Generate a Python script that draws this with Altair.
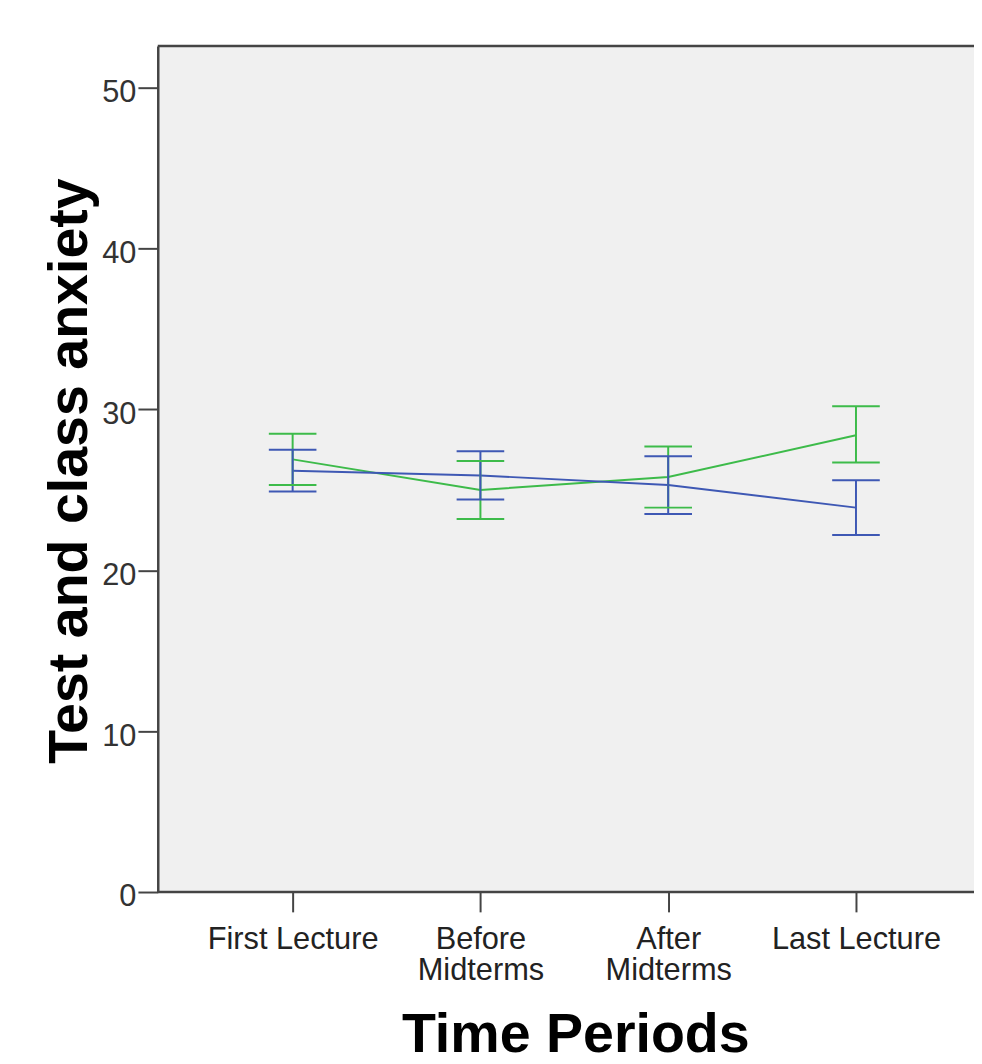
import altair as alt
import pandas as pd

# ---- data ----
periods = ["First Lecture", "Before|Midterms", "After|Midterms", "Last Lecture"]
groups = ["Group A", "Group B"]  # green, blue (no legend in reference)

green_mean = [26.9, 25.0, 25.8, 28.4]
green_lo = [25.3, 23.2, 23.9, 26.7]
green_hi = [28.5, 26.8, 27.7, 30.2]

blue_mean = [26.2, 25.9, 25.3, 23.9]
blue_lo = [24.9, 24.4, 23.5, 22.2]
blue_hi = [27.5, 27.4, 27.1, 25.6]

y_ticks = [0, 10, 20, 30, 40, 50]
colors = ["#3dbb4a", "#3e58b4"]

rows = []
for g, m, lo, hi in [(groups[0], green_mean, green_lo, green_hi),
                     (groups[1], blue_mean, blue_lo, blue_hi)]:
    for p, mv, lv, hv in zip(periods, m, lo, hi):
        rows.append({"period": p, "group": g, "mean": mv, "lo": lv, "hi": hv})
df = pd.DataFrame(rows)

W = 823
H = 853

x = alt.X(
    "period:N",
    sort=periods,
    scale=alt.Scale(type="point", range=[136, 704], padding=0),
    axis=alt.Axis(
        title="Time Periods",
        titleFont="Liberation Sans",
        titleFontSize=56,
        titleFontWeight="bold",
        titleColor="#000000",
        titleX=421,
        titleY=161,
        titleAlign="center",
        titleBaseline="alphabetic",
        domain=False,
        ticks=True,
        tickSize=20,
        tickWidth=2,
        tickColor="#444444",
        labelFont="Liberation Sans",
        labelFontSize=31,
        labelColor="#222222",
        labelAngle=0,
        labelPadding=13,
        labelLineHeight=31,
        labelExpr="split(datum.label, '|')",
        grid=False,
    ),
)

yscale = alt.Scale(domain=[0, 52.6], nice=False, zero=True)
color = alt.Color("group:N", scale=alt.Scale(domain=groups, range=colors), legend=None)

base = alt.Chart(df)

lines = base.mark_line(strokeWidth=2).encode(
    x=x,
    y=alt.Y(
        "mean:Q",
        scale=yscale,
        axis=alt.Axis(
            title="Test and class anxiety",
            titleFont="Liberation Sans",
            titleFontSize=56,
            titleFontWeight="bold",
            titleColor="#000000",
            titleAngle=270,
            titleX=-72,
            titleY=428,
            titleAlign="center",
            titleBaseline="alphabetic",
            values=y_ticks,
            domain=True,
            domainColor="#444444",
            domainWidth=2.5,
            tickSize=20,
            tickWidth=2,
            tickColor="#444444",
            labelFont="Liberation Sans",
            labelFontSize=31,
            labelColor="#333333",
            labelPadding=2,
            labelOffset=5,
            grid=False,
        ),
    ),
    color=color,
)

bars = base.mark_rule(strokeWidth=2).encode(
    x=alt.X("period:N", sort=periods),
    y=alt.Y("lo:Q", scale=yscale),
    y2="hi:Q",
    color=color,
)

cap_lo = base.mark_tick(size=48, thickness=2, opacity=1).encode(
    x=alt.X("period:N", sort=periods),
    y=alt.Y("lo:Q", scale=yscale),
    color=color,
)
cap_hi = base.mark_tick(size=48, thickness=2, opacity=1).encode(
    x=alt.X("period:N", sort=periods),
    y=alt.Y("hi:Q", scale=yscale),
    color=color,
)

frame_df = pd.DataFrame({"k": [0]})
top_line = alt.Chart(frame_df).mark_rule(color="#444444", strokeWidth=2.5).encode(
    x=alt.value(0), x2=alt.value(W), y=alt.value(0)
)
bottom_line = alt.Chart(frame_df).mark_rule(color="#444444", strokeWidth=2.5).encode(
    x=alt.value(0), x2=alt.value(W), y=alt.value(H)
)

chart = (
    alt.layer(lines, bars, cap_lo, cap_hi, top_line, bottom_line)
    .properties(
        width=W,
        height=H,
        autosize=alt.AutoSizeParams(type="none"),
        padding={"left": 151, "top": 34, "right": 0, "bottom": 163},
        background="#ffffff",
    )
    .configure_view(fill="#F0F0F0", stroke=None)
)

chart.save("out.html", embed_options={"renderer": "svg", "actions": False})
